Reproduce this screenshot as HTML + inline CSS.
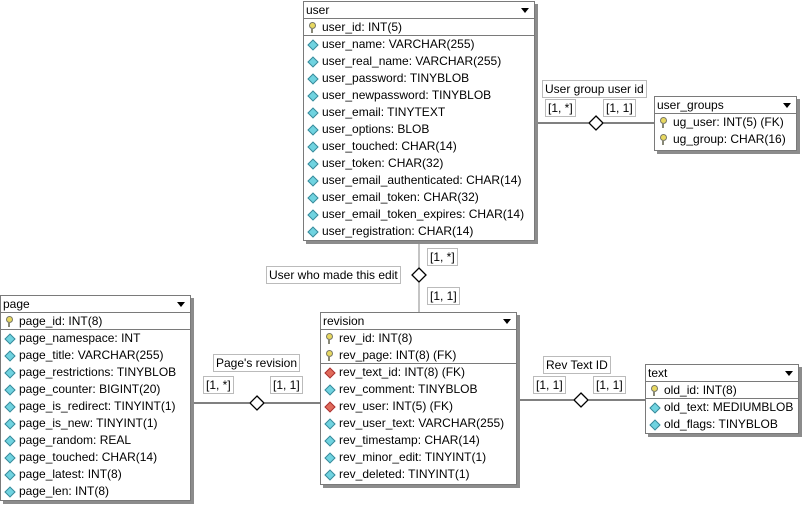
<!DOCTYPE html>
<html><head><meta charset="utf-8"><style>
body{margin:0;width:806px;height:507px;background:#fff;position:relative;overflow:hidden;font-family:"Liberation Sans","DejaVu Sans",sans-serif;font-size:12px;color:#000}
.t{position:absolute;background:#fff;border:1px solid #7a7a7a;box-shadow:3px 3px 0 #8c8c8c;box-sizing:border-box}
.h{height:16px;line-height:16px;padding-left:2px;border-bottom:1px solid #7a7a7a;position:relative}
.h:after{content:"";position:absolute;right:5px;top:6px;border-left:4px solid transparent;border-right:4px solid transparent;border-top:5px solid #000}
.r{height:17px;line-height:17px;padding-left:18px;position:relative;white-space:nowrap}
.sep{border-bottom:1px solid #7a7a7a;height:16px}
.r i{position:absolute;left:5px;top:5px;width:6px;height:6px;transform:rotate(45deg);border:1px solid #3a8a9a;background:#6fd3e0}
.r i.f{border-color:#a33;background:#e06a5a}
.r b{position:absolute;left:5px;top:3px;width:5px;height:5px;border-radius:50%;border:1px solid #776;background:#e8d860}
.r b:after{content:"";position:absolute;left:1px;top:5px;width:2px;height:5px;background:#887}
.lb{position:absolute;border:1px solid #bbb;background:#fff;padding:0 2px;height:16px;line-height:16px;white-space:nowrap}
svg{position:absolute;left:0;top:0}
</style></head><body>
<svg width="806" height="507">
<line x1="535" y1="123" x2="654" y2="123" stroke="#000"/>
<line x1="419" y1="241" x2="419" y2="312" stroke="#888"/>
<line x1="193" y1="403" x2="320" y2="403" stroke="#000"/>
<line x1="519" y1="400" x2="645" y2="400" stroke="#000"/>
<polygon points="596,116 603,123 596,130 589,123" fill="#fff" stroke="#000" stroke-width="1.3"/>
<polygon points="419,268 426,275 419,282 412,275" fill="#fff" stroke="#000" stroke-width="1.3"/>
<polygon points="257,396 264,403 257,410 250,403" fill="#fff" stroke="#000" stroke-width="1.3"/>
<polygon points="581,393 588,400 581,407 574,400" fill="#fff" stroke="#000" stroke-width="1.3"/>
</svg>
<div class="lb" style="left:542px;top:80px">User group user id</div>
<div class="lb" style="left:545px;top:99px">[1, *]</div>
<div class="lb" style="left:603px;top:99px">[1, 1]</div>
<div class="lb" style="left:266px;top:266px">User who made this edit</div>
<div class="lb" style="left:427px;top:248px">[1, *]</div>
<div class="lb" style="left:427px;top:287px">[1, 1]</div>
<div class="lb" style="left:213px;top:354px">Page's revision</div>
<div class="lb" style="left:203px;top:376px">[1, *]</div>
<div class="lb" style="left:270px;top:376px">[1, 1]</div>
<div class="lb" style="left:543px;top:356px">Rev Text ID</div>
<div class="lb" style="left:533px;top:376px">[1, 1]</div>
<div class="lb" style="left:593px;top:376px">[1, 1]</div>

<div class="t" style="left:303px;top:1px;width:232px;height:240px">
<div class="h">user</div>
<div class="r sep"><b></b>user_id: INT(5)</div>
<div class="r"><i></i>user_name: VARCHAR(255)</div>
<div class="r"><i></i>user_real_name: VARCHAR(255)</div>
<div class="r"><i></i>user_password: TINYBLOB</div>
<div class="r"><i></i>user_newpassword: TINYBLOB</div>
<div class="r"><i></i>user_email: TINYTEXT</div>
<div class="r"><i></i>user_options: BLOB</div>
<div class="r"><i></i>user_touched: CHAR(14)</div>
<div class="r"><i></i>user_token: CHAR(32)</div>
<div class="r"><i></i>user_email_authenticated: CHAR(14)</div>
<div class="r"><i></i>user_email_token: CHAR(32)</div>
<div class="r"><i></i>user_email_token_expires: CHAR(14)</div>
<div class="r"><i></i>user_registration: CHAR(14)</div>
</div>

<div class="t" style="left:654px;top:96px;width:143px;height:55px">
<div class="h">user_groups</div>
<div class="r"><b></b>ug_user: INT(5) (FK)</div>
<div class="r"><b></b>ug_group: CHAR(16)</div>
</div>

<div class="t" style="left:0px;top:295px;width:191px;height:206px">
<div class="h">page</div>
<div class="r sep"><b></b>page_id: INT(8)</div>
<div class="r"><i></i>page_namespace: INT</div>
<div class="r"><i></i>page_title: VARCHAR(255)</div>
<div class="r"><i></i>page_restrictions: TINYBLOB</div>
<div class="r"><i></i>page_counter: BIGINT(20)</div>
<div class="r"><i></i>page_is_redirect: TINYINT(1)</div>
<div class="r"><i></i>page_is_new: TINYINT(1)</div>
<div class="r"><i></i>page_random: REAL</div>
<div class="r"><i></i>page_touched: CHAR(14)</div>
<div class="r"><i></i>page_latest: INT(8)</div>
<div class="r"><i></i>page_len: INT(8)</div>
</div>

<div class="t" style="left:320px;top:312px;width:197px;height:173px">
<div class="h">revision</div>
<div class="r"><b></b>rev_id: INT(8)</div>
<div class="r sep"><b></b>rev_page: INT(8) (FK)</div>
<div class="r"><i class="f"></i>rev_text_id: INT(8) (FK)</div>
<div class="r"><i></i>rev_comment: TINYBLOB</div>
<div class="r"><i class="f"></i>rev_user: INT(5) (FK)</div>
<div class="r"><i></i>rev_user_text: VARCHAR(255)</div>
<div class="r"><i></i>rev_timestamp: CHAR(14)</div>
<div class="r"><i></i>rev_minor_edit: TINYINT(1)</div>
<div class="r"><i></i>rev_deleted: TINYINT(1)</div>
</div>

<div class="t" style="left:645px;top:364px;width:154px;height:70px">
<div class="h">text</div>
<div class="r sep"><b></b>old_id: INT(8)</div>
<div class="r"><i></i>old_text: MEDIUMBLOB</div>
<div class="r"><i></i>old_flags: TINYBLOB</div>
</div>
</body></html>
